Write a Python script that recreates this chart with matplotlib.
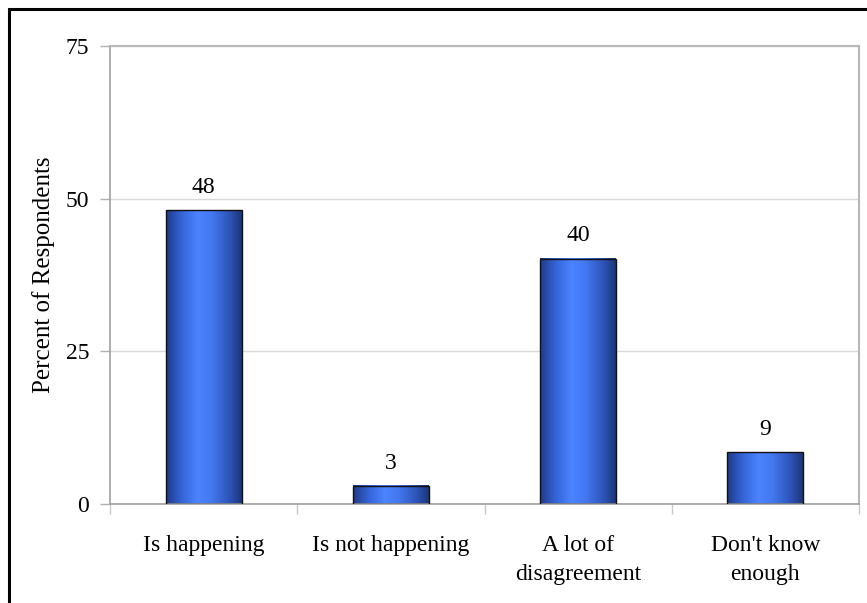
import matplotlib
matplotlib.use("Agg")
import matplotlib.pyplot as plt
import numpy as np
from matplotlib.colors import LinearSegmentedColormap
from matplotlib.patches import Rectangle

categories = ["Is happening", "Is not happening", "A lot of\ndisagreement", "Don't know\nenough"]
values = [48.1, 2.95, 40.2, 8.5]
labels = ["48", "3", "40", "9"]
yticks = [0, 25, 50, 75]

plt.rcParams['font.family'] = ['Liberation Serif', 'DejaVu Serif']
FS = 17

fig = plt.figure(figsize=(8.67, 6.03), dpi=100)
W, H = 867, 603
ax = fig.add_axes([110 / W, 1 - 504 / H, (859 - 110) / W, (504 - 46) / H])

# figure frame (left + top visible)
fig.patches.append(Rectangle((9 / W, -0.1), 1.2, 1 - 9.5 / H + 0.1, transform=fig.transFigure,
                             fill=False, edgecolor='black', linewidth=2.2, zorder=10))

x = np.arange(len(categories))
width = 0.405
cmap = LinearSegmentedColormap.from_list("bar", [
    (0.0, "#1e3a86"), (0.2, "#3563d6"), (0.42, "#4b84ff"), (0.6, "#4378f0"),
    (0.85, "#2c52b5"), (1.0, "#1b3575")])
grad = np.linspace(0, 1, 256).reshape(1, -1)

ax.set_xlim(-0.5, len(categories) - 0.5)
ax.set_ylim(0, 75)

for xi, v, lab in zip(x, values, labels):
    ax.imshow(grad, cmap=cmap, aspect='auto', extent=(xi - width / 2, xi + width / 2, 0, v),
              zorder=2, interpolation='bilinear')
    ax.add_patch(Rectangle((xi - width / 2, 0), width, v, fill=False, edgecolor='#111111',
                           linewidth=1.0, zorder=3))
    ax.text(xi, v + 2.0, lab, ha='center', va='bottom', fontsize=FS)

ax.set_xlim(-0.5, len(categories) - 0.5)
ax.set_ylim(0, 75)
ax.set_yticks(yticks)
ax.set_yticklabels([str(t) for t in yticks], fontsize=FS)
ax.yaxis.grid(True, color='#d9d9d9', linewidth=1.0, zorder=0)
ax.set_axisbelow(True)

ax.set_xticks(x)
ax.set_xticklabels(categories, fontsize=FS, linespacing=1.5)
ax.tick_params(axis='x', length=0, pad=22)
ax.set_xticks(np.arange(-0.5, len(categories) + 0.5, 1), minor=True)
ax.tick_params(axis='x', which='minor', length=7, color='#c8c8c8', width=1)
ax.tick_params(axis='y', length=7, color='#b0b0b0', width=1, pad=8)

for s in ['left', 'bottom']:
    ax.spines[s].set_color('#a0a0a0')
    ax.spines[s].set_linewidth(1.2)
for s in ['top', 'right']:
    ax.spines[s].set_color('#b8b8b8')
    ax.spines[s].set_linewidth(1.5)

ax.set_ylabel("Percent of Respondents", fontsize=18, labelpad=8)

fig.savefig("out.png", dpi=100)
